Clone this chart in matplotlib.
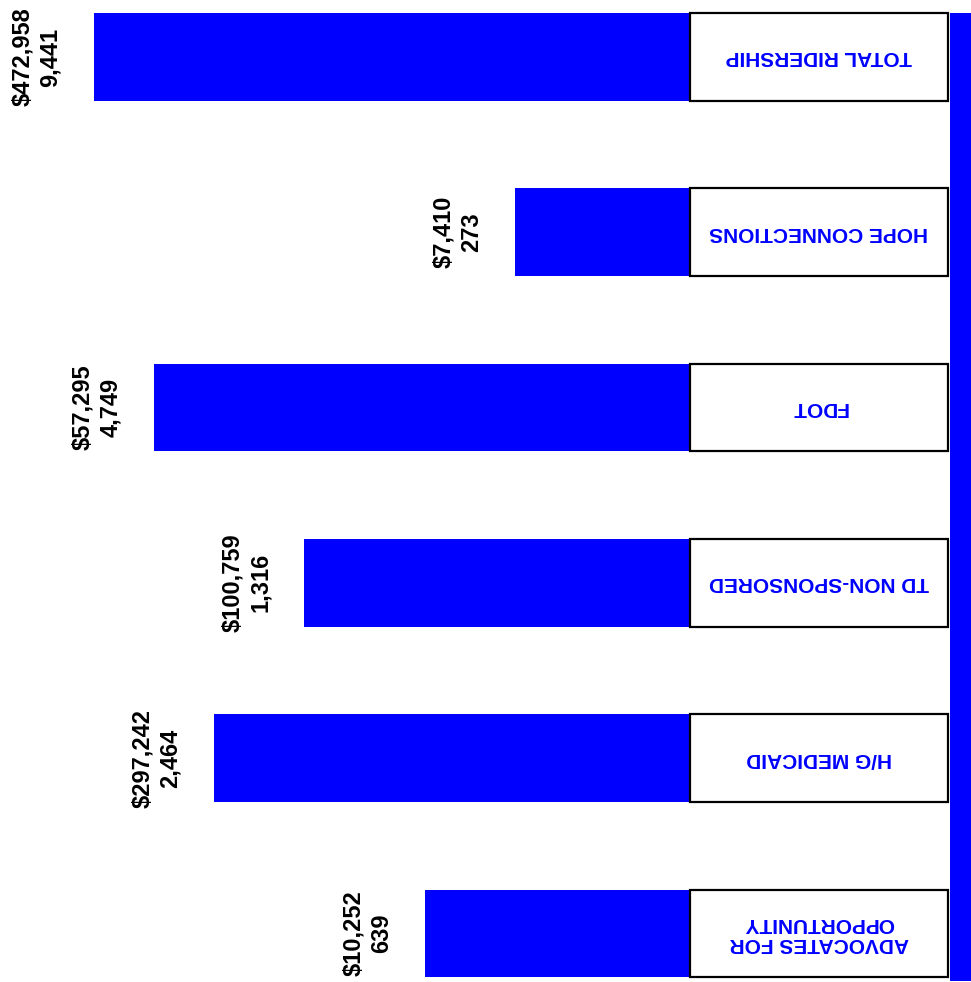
import matplotlib
matplotlib.use("Agg")
import matplotlib.pyplot as plt
import numpy as np

# datos (de arriba hacia abajo)
programas = ["TOTAL RIDERSHIP", "HOPE CONNECTIONS", "FDOT", "TD NON-SPONSORED",
             "H/G MEDICAID", "ADVOCATES FOR\nOPPORTUNITY"]
costos = ["$472,958", "$7,410", "$57,295", "$100,759", "$297,242", "$10,252"]
viajes = ["9,441", "273", "4,749", "1,316", "2,464", "639"]
# largo de las barras (unidades arbitrarias, tal como se ven en la imagen)
largo_barra = [596, 175, 536, 386, 476, 265]

AZUL = "#0000FF"
plt.rcParams['font.family'] = ['Liberation Sans', 'DejaVu Sans']

fig = plt.figure(figsize=(9.71, 9.82), dpi=100)
ax = fig.add_axes([0, 0, 1, 1])

y = np.arange(len(programas))
ancho_caja = 258

# barras que crecen hacia la izquierda
ax.barh(y, largo_barra, left=0, height=0.5, color=AZUL)
# cajas blancas con el nombre del programa
ax.barh(y, ancho_caja, left=-ancho_caja, height=0.5, color="white",
        edgecolor="black", linewidth=1.6)
# franja azul a la derecha
ax.fill_betweenx([-0.25, 5.27], -ancho_caja - 2, -ancho_caja - 23, color=AZUL, lw=0)

for i in range(len(programas)):
    ax.text(-ancho_caja / 2, y[i], programas[i], rotation=180, ha="center", va="center",
            color=AZUL, fontsize=15, fontweight="bold", multialignment="center",
            linespacing=1.1)
    ax.text(largo_barra[i] + 32, y[i], costos[i] + "\n" + viajes[i], rotation=90,
            ha="right", va="center", color="black", fontsize=17, fontweight="bold",
            multialignment="center", linespacing=1.25)

ax.set_xlim(690, 690 - 971)
ax.set_ylim(5.277, -0.325)
ax.axis("off")

plt.savefig("out.png", dpi=100)
plt.close()
